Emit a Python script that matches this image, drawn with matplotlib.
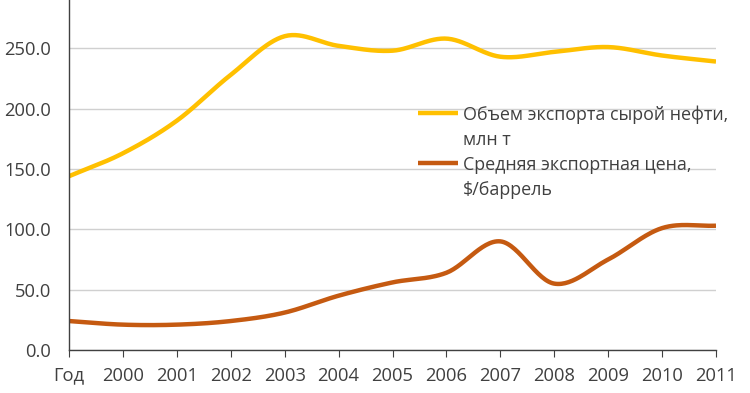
import numpy as np
import matplotlib
matplotlib.use("Agg")
import matplotlib.pyplot as plt
from matplotlib.lines import Line2D

categories = ["Год", "2000", "2001", "2002", "2003", "2004", "2005", "2006",
              "2007", "2008", "2009", "2010", "2011"]
export_volume = [144, 163, 190, 228, 260, 252, 248, 258, 243, 247, 251, 244, 239]
export_price = [24, 21, 21, 24, 31, 45, 56, 64, 90, 55, 75, 101, 103]
label_volume = ["Объем экспорта сырой нефти,", "млн т"]
label_price = ["Средняя экспортная цена,", "$/баррель"]

def smooth(xs, ys, n=30):
    xs = np.asarray(xs, float); ys = np.asarray(ys, float)
    px = np.concatenate([[2*xs[0]-xs[1]], xs, [2*xs[-1]-xs[-2]]])
    py = np.concatenate([[2*ys[0]-ys[1]], ys, [2*ys[-1]-ys[-2]]])
    ox, oy = [], []
    for i in range(1, len(px)-2):
        t = np.linspace(0, 1, n, endpoint=False)
        for arr, out in ((px, ox), (py, oy)):
            p0, p1, p2, p3 = arr[i-1], arr[i], arr[i+1], arr[i+2]
            out.extend(0.5*((2*p1) + (-p0+p2)*t + (2*p0-5*p1+4*p2-p3)*t**2 + (-p0+3*p1-3*p2+p3)*t**3))
    ox.append(xs[-1]); oy.append(ys[-1])
    return np.array(ox), np.array(oy)

plt.rcParams['font.family'] = ['Open Sans', 'DejaVu Sans']
txt = '#404040'
c_vol = '#FFC000'
c_price = '#C55A11'
fig = plt.figure(figsize=(7.5, 3.93), dpi=100)
W, H = 750, 393
ax = fig.add_axes([69/W, 43/H, (716-69)/W, 350/H])
x = np.arange(len(categories))
sx, sy = smooth(x, export_volume)
ax.plot(sx, sy, color=c_vol, lw=3.2, solid_capstyle='butt')
sx, sy = smooth(x, export_price)
ax.plot(sx, sy, color=c_price, lw=3.2, solid_capstyle='butt')

ax.set_xlim(0, len(categories)-1)
ax.set_ylim(0, 290)
ax.set_yticks(np.arange(0, 251, 50))
ax.set_yticklabels([f"{v:.1f}" for v in np.arange(0, 251, 50)])
ax.set_xticks(x)
ax.set_xticklabels(categories)
ax.grid(axis='y', color='#D0D0D0', lw=1)
ax.set_axisbelow(True)
for s in ['top', 'right']:
    ax.spines[s].set_visible(False)
for s in ['left', 'bottom']:
    ax.spines[s].set_color('#404040')
    ax.spines[s].set_linewidth(1)
ax.tick_params(axis='y', length=0, pad=13, labelsize=13.2, labelcolor=txt)
ax.tick_params(axis='x', length=5, direction='out', pad=7, labelsize=13.2, labelcolor=txt, color='#404040')

# legend (drawn manually so the handle aligns with the first text line)
for (lines, col, y0) in ((label_volume, c_vol, 113), (label_price, c_price, 163)):
    fig.add_artist(Line2D([418/W, 458/W], [1 - y0/H, 1 - y0/H], color=col, lw=3.2,
                          transform=fig.transFigure, solid_capstyle='butt'))
    for k, line in enumerate(lines):
        fig.text(463/W, 1 - (y0 + 25*k)/H, line, fontsize=12.9, color=txt,
                 ha='left', va='center_baseline')
fig.savefig("out.png", dpi=100)
